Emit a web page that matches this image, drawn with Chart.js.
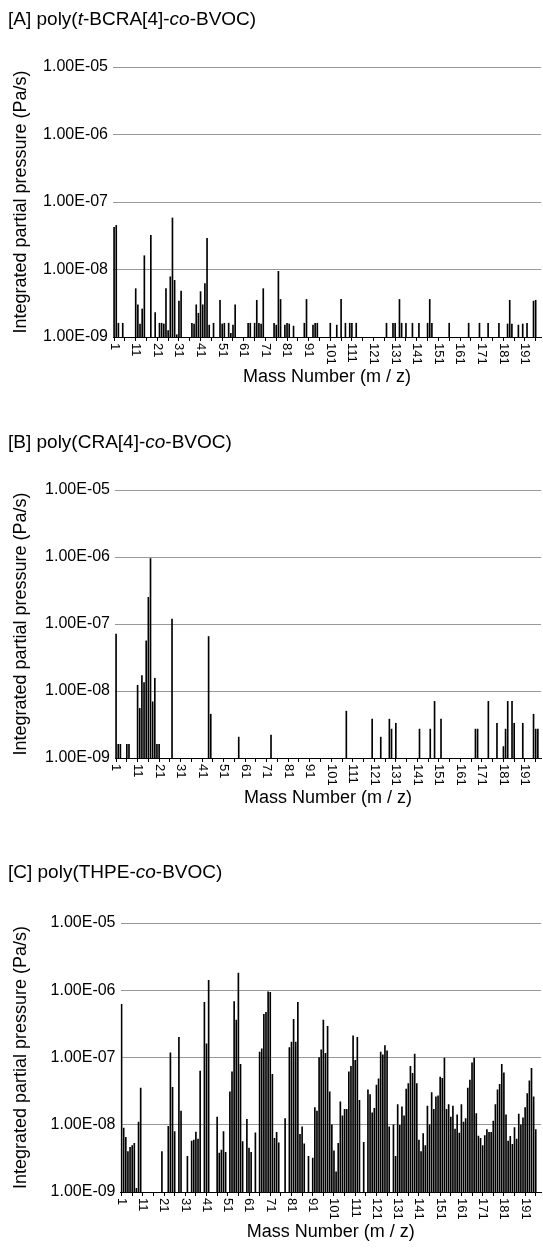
<!DOCTYPE html>
<html>
<head>
<meta charset="utf-8">
<script src="https://cdn.jsdelivr.net/npm/chart.js@4.4.1/dist/chart.umd.min.js"></script>
<style>
body { margin: 0; background: #fff; }
#page { position: relative; width: 543px; height: 1251px; overflow: hidden; font-family: "Liberation Sans", Arial, sans-serif; }
canvas { position: absolute; left: 0; }
.title { position: absolute; left: 8px; font-size: 19px; line-height: 22px; white-space: nowrap; color: #000; z-index: 2; }
</style>
</head>
<body>
<div id="page">
  <canvas id="chartA" width="543" height="400" style="top:0px"></canvas>
  <canvas id="chartB" width="543" height="405" style="top:420px"></canvas>
  <canvas id="chartC" width="543" height="401" style="top:850px"></canvas>
  <div class="title" style="top:8px">[A] poly(<i>t</i>-BCRA[4]-<i>co</i>-BVOC)</div>
  <div class="title" style="top:431px">[B] poly(CRA[4]-<i>co</i>-BVOC)</div>
  <div class="title" style="top:861px">[C] poly(THPE-<i>co</i>-BVOC)</div>
</div>
<script>
// categories: mass numbers 1..198
var massNumbers = [];
for (var m = 1; m <= 198; m++) massNumbers.push(m);

var yTickValues = [1e-9, 1e-8, 1e-7, 1e-6, 1e-5];
var yTickLabels = ['1.00E-09', '1.00E-08', '1.00E-07', '1.00E-06', '1.00E-05'];

// [A] poly(t-BCRA[4]-co-BVOC)
var massA = [1, 2, 3, 5, 11, 12, 13, 14, 15, 18, 20,
    22, 23, 24, 25, 26, 27, 28, 29, 30, 31, 32,
    37, 38, 39, 40, 41, 42, 43, 44, 45, 47,
    50, 51, 52, 54, 55, 56, 57, 63, 64,
    66, 67, 68, 69, 70, 75, 76, 77, 78,
    80, 81, 82, 84, 89, 90, 93, 94, 95,
    101, 104, 106, 108, 110, 111, 113, 127,
    130, 131, 133, 134, 136, 139, 142, 146, 147, 148,
    156, 165, 170, 174, 179, 183, 184, 185, 188, 190, 192, 195, 196];
var pressureA = [4.2e-8, 4.5e-8, 1.6e-9, 1.6e-9, 5.2e-9, 3.0e-9, 1.56e-9, 2.6e-9, 1.6e-8, 3.2e-8, 2.3e-9,
    1.6e-9, 1.6e-9, 1.56e-9, 5.2e-9, 1.25e-9, 7.8e-9, 5.8e-8, 6.9e-9, 1.08e-9, 3.4e-9, 4.8e-9,
    1.6e-9, 1.56e-9, 3.0e-9, 2.25e-9, 4.7e-9, 3.0e-9, 6.2e-9, 2.9e-8, 1.5e-9, 1.6e-9,
    3.5e-9, 1.56e-9, 1.6e-9, 1.6e-9, 1.13e-9, 1.5e-9, 3.0e-9, 1.6e-9, 1.6e-9,
    1.6e-9, 3.5e-9, 1.6e-9, 1.56e-9, 5.2e-9, 1.6e-9, 1.5e-9, 9.4e-9, 3.6e-9,
    1.5e-9, 1.6e-9, 1.56e-9, 1.45e-9, 1.6e-9, 3.6e-9, 1.5e-9, 1.6e-9, 1.6e-9,
    1.6e-9, 1.5e-9, 3.6e-9, 1.6e-9, 1.6e-9, 1.6e-9, 1.6e-9, 1.6e-9,
    1.6e-9, 1.6e-9, 3.6e-9, 1.6e-9, 1.6e-9, 1.6e-9, 1.6e-9, 1.6e-9, 3.6e-9, 1.6e-9,
    1.6e-9, 1.6e-9, 1.6e-9, 1.6e-9, 1.6e-9, 1.56e-9, 3.5e-9, 1.56e-9, 1.5e-9, 1.56e-9, 1.6e-9, 3.4e-9, 3.5e-9];

// [B] poly(CRA[4]-co-BVOC)
var massB = [1, 2, 3, 6, 7, 11, 12, 13, 14, 15, 16, 17, 18, 19, 20, 21,
    27, 44, 45, 58, 73, 108, 120, 124, 128, 129, 131,
    142, 147, 149, 152, 168, 169, 174, 178,
    181, 182, 183, 185, 186, 190, 195, 196, 197];
var pressureB = [7.1e-8, 1.6e-9, 1.6e-9, 1.6e-9, 1.6e-9, 1.22e-8, 5.5e-9, 1.7e-8, 1.34e-8, 5.6e-8, 2.5e-7, 9.5e-7, 6.9e-9, 1.55e-8, 1.6e-9, 1.6e-9,
    1.18e-7, 6.5e-8, 4.5e-9, 2.05e-9, 2.2e-9, 5.0e-9, 3.8e-9, 2.05e-9, 3.8e-9, 2.7e-9, 3.3e-9,
    2.7e-9, 2.7e-9, 7.0e-9, 3.8e-9, 2.7e-9, 2.7e-9, 7.0e-9, 3.3e-9,
    1.48e-9, 2.7e-9, 7.0e-9, 7.0e-9, 3.3e-9, 3.3e-9, 4.5e-9, 2.7e-9, 2.7e-9];

// [C] poly(THPE-co-BVOC)
var massC = [1, 2, 3, 4, 5, 6, 7, 8, 9, 10,
    20, 23, 24, 25, 26, 28, 29,
    32, 34, 35, 36, 37, 38, 40,
    41, 42, 46, 47, 48, 49, 50,
    52, 53, 54, 55, 56, 57, 58, 60,
    61, 62, 64, 66, 67, 68, 69, 70,
    71, 72, 73, 74, 75, 78, 80,
    81, 82, 83, 84, 85, 86, 87, 89,
    91, 92, 93, 94, 95, 96, 97, 98, 99, 100,
    101, 102, 103, 104, 105, 106, 107, 108, 109, 110,
    111, 112, 113, 115, 117, 118, 119, 120,
    121, 122, 123, 124, 125, 126, 127, 129, 130,
    131, 132, 133, 134, 135, 136, 137, 138, 139, 140,
    141, 142, 143, 144, 145, 146, 147, 148, 149, 150,
    151, 152, 153, 154, 155, 156, 157, 158, 159, 160,
    161, 162, 163, 164, 165, 166, 167, 168, 169, 170,
    171, 172, 173, 174, 175, 176, 177, 178, 179, 180,
    181, 182, 183, 184, 185, 186, 187, 188, 189, 190,
    191, 192, 193, 194, 195, 196];
var pressureC = [6.2e-7, 8.9e-9, 6.5e-9, 4.0e-9, 4.6e-9, 4.9e-9, 5.3e-9, 1.13e-9, 1.1e-8, 3.5e-8,
    4.0e-9, 9.5e-9, 1.17e-7, 3.6e-8, 7.9e-9, 2.0e-7, 1.6e-8,
    3.4e-9, 5.7e-9, 5.9e-9, 7.8e-9, 6.1e-9, 6.3e-8, 6.6e-7,
    1.6e-7, 1.4e-6, 1.3e-8, 3.8e-9, 4.2e-9, 7.9e-9, 3.9e-9,
    3.1e-8, 6.1e-8, 6.8e-7, 3.6e-7, 1.8e-6, 7.9e-8, 5.6e-9, 1.2e-8,
    4.5e-9, 3.9e-9, 7.6e-9, 1.2e-7, 1.35e-7, 4.4e-7, 4.7e-7, 9.5e-7,
    9.3e-7, 5.6e-8, 6.3e-9, 7.7e-9, 5.4e-9, 1.24e-8, 1.4e-7,
    1.7e-7, 3.7e-7, 1.7e-7, 6.6e-7, 7.2e-9, 9.3e-9, 5.2e-9, 3.4e-9,
    3.2e-9, 1.8e-8, 1.6e-8, 1.0e-7, 1.3e-7, 3.6e-7, 1.15e-7, 2.9e-7, 3.1e-8, 1.0e-8,
    4.1e-9, 2.0e-9, 5.3e-9, 2.2e-8, 1.36e-8, 1.7e-8, 1.7e-8, 6.1e-8, 7.4e-8, 2.1e-7,
    9.1e-8, 2.0e-7, 2.3e-8, 5.5e-9, 3.3e-8, 2.8e-8, 1.5e-8, 1.75e-8,
    3.9e-8, 4.8e-8, 1.2e-7, 1.1e-7, 1.5e-7, 1.26e-7, 9.3e-9, 1.0e-8, 3.4e-9,
    2.0e-8, 9.8e-9, 1.85e-8, 1.36e-8, 3.4e-8, 4.1e-8, 7.4e-8, 5.8e-8, 1.12e-7, 4.1e-8,
    5.9e-9, 4.0e-9, 7.4e-9, 4.9e-9, 1.9e-8, 1.0e-8, 3.0e-8, 1.7e-8, 2.6e-8, 2.7e-8,
    5.1e-8, 4.9e-8, 9.8e-8, 1.7e-8, 2.0e-8, 1.3e-8, 1.9e-8, 8.6e-9, 1.4e-8, 7.5e-9,
    2.0e-8, 1.1e-8, 1.24e-8, 3.5e-8, 4.6e-8, 8.3e-8, 9.8e-8, 1.47e-8, 6.8e-9, 6.3e-9,
    4.9e-9, 6.9e-9, 8.5e-9, 7.7e-9, 7.7e-9, 1.13e-8, 2.0e-8, 3.3e-8, 4.0e-8, 7.9e-8,
    5.9e-8, 1.4e-8, 5.7e-9, 6.7e-9, 5.1e-9, 9.1e-9, 6.1e-9, 1.44e-8, 1.0e-8, 1.27e-8,
    1.8e-8, 2.9e-8, 4.5e-8, 6.9e-8, 2.6e-8, 8.5e-9];

var FONT = '"Liberation Sans", Arial, sans-serif';
Chart.defaults.font.family = FONT;
Chart.defaults.color = '#000';

// put the sparse readings onto the full mass axis
function toSeries(masses, values) {
    var data = massNumbers.map(function () { return null; });
    masses.forEach(function (mz, i) { data[mz - 1] = values[i]; });
    return data;
}

// x labels are written top-to-bottom, first digit next to the axis
var massLabels = {
    id: 'massLabels',
    afterDraw: function (chart) {
        var ctx = chart.ctx, xs = chart.scales.x, area = chart.chartArea;
        ctx.save();
        ctx.font = '13px ' + FONT;
        ctx.fillStyle = '#000';
        ctx.textAlign = 'left';
        ctx.textBaseline = 'middle';
        massNumbers.forEach(function (mz, i) {
            if ((mz - 1) % 10 !== 0) return;
            ctx.save();
            ctx.translate(xs.getPixelForValue(i), area.bottom + 6);
            ctx.rotate(Math.PI / 2);
            ctx.fillText(String(mz), 0, 0);
            ctx.restore();
        });
        ctx.restore();
    }
};

function makePanel(id, masses, values, box) {
    var titleLine = 18 * 1.2;
    new Chart(document.getElementById(id), {
        type: 'bar',
        data: {
            labels: massNumbers,
            datasets: [{
                data: toSeries(masses, values),
                backgroundColor: '#000',
                borderWidth: 0,
                barThickness: 1
            }]
        },
        options: {
            responsive: false,
            animation: false,
            layout: { padding: { top: box.top, right: 0, bottom: 0, left: 0 } },
            plugins: { legend: { display: false }, tooltip: { enabled: false } },
            scales: {
                x: {
                    offset: true,
                    grid: {
                        offset: false,
                        drawOnChartArea: false,
                        tickLength: 4,
                        tickColor: function (c) { return c.index % 5 === 0 ? '#000' : 'rgba(0,0,0,0)'; }
                    },
                    border: { color: '#000' },
                    ticks: { autoSkip: false, minRotation: 0, maxRotation: 0, font: { size: 2 }, callback: function () { return ''; } },
                    title: {
                        display: true,
                        text: 'Mass Number (m / z)',
                        font: { size: 18 },
                        padding: { top: 0, bottom: box.height - box.bottom - 40 - titleLine / 2 }
                    },
                    afterFit: function (s) { s.height = box.height - box.bottom; }
                },
                y: {
                    type: 'logarithmic',
                    min: 1e-9,
                    max: 1e-5,
                    afterBuildTicks: function (s) {
                        s.ticks = yTickValues.map(function (v) { return { value: v }; });
                    },
                    ticks: {
                        padding: 5,
                        font: { size: 16 },
                        callback: function (v) { return yTickLabels[Math.round(Math.log10(v)) + 9]; }
                    },
                    grid: { color: '#999', drawTicks: false },
                    border: { display: false },
                    title: {
                        display: true,
                        text: 'Integrated partial pressure (Pa/s)',
                        font: { size: 18 },
                        padding: { top: 21 - titleLine / 2, bottom: 0 }
                    },
                    afterFit: function (s) { s.width = box.left; }
                }
            }
        },
        plugins: [massLabels]
    });
}

makePanel('chartA', massA, pressureA, { top: 67, bottom: 337, left: 113, height: 400 });
makePanel('chartB', massB, pressureB, { top: 70, bottom: 338, left: 115, height: 405 });
makePanel('chartC', massC, pressureC, { top: 73, bottom: 342, left: 120.5, height: 401 });
</script>
</body>
</html>
